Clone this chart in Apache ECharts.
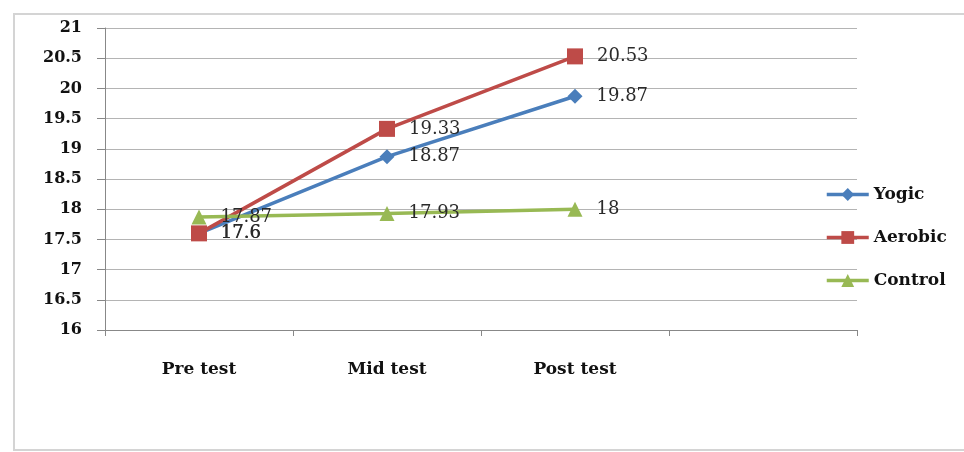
<!DOCTYPE html>
<html>
<head>
<meta charset="utf-8">
<script src="https://cdn.jsdelivr.net/npm/echarts@6/dist/echarts.min.js"></script>
<style>
  html, body { margin: 0; padding: 0; background: #ffffff; }
  #chart { width: 964px; height: 452px; }
</style>
</head>
<body>
<div id="chart"></div>
<script>
// Test phases (fourth slot is an empty category on the axis)
const categories = ['Pre test', 'Mid test', 'Post test', ''];

// Mean scores per group
const yogic   = [17.6, 18.87, 19.87];
const aerobic = [17.6, 19.33, 20.53];
const control = [17.87, 17.93, 18];

const yTicks = { min: 16, max: 21, interval: 0.5 };

const serif = '"DejaVu Serif", "Liberation Serif", serif';

function lineSeries(name, data, color, symbol, size) {
  return {
    name: name,
    type: 'line',
    data: data,
    symbol: symbol,
    symbolSize: size,
    lineStyle: { color: color, width: 3.5 },
    itemStyle: { color: color },
    label: {
      show: true,
      position: 'right',
      distance: 14,
      fontFamily: serif,
      fontSize: 18,
      color: '#2a2a2a',
      formatter: p => String(p.value)
    },
    z: 3
  };
}

const chart = echarts.init(document.getElementById('chart'));
chart.setOption({
  animation: false,
  backgroundColor: '#ffffff',
  graphic: [{
    type: 'rect',
    shape: { x: 14, y: 14, width: 962, height: 436 },
    style: { fill: 'none', stroke: '#d4d4d4', lineWidth: 2 },
    z: -1
  }],
  grid: { left: 105, right: 107, top: 28, bottom: 122 },
  legend: {
    orient: 'vertical',
    left: 820,
    top: 181,
    itemWidth: 42,
    itemHeight: 16,
    itemGap: 26,
    lineStyle: { width: 3.5 },
    textStyle: { fontFamily: serif, fontSize: 17, fontWeight: 'bold', color: '#111' },
    data: ['Yogic', 'Aerobic', 'Control']
  },
  xAxis: {
    type: 'category',
    data: categories,
    boundaryGap: true,
    axisLine: { lineStyle: { color: '#888', width: 1 } },
    axisTick: { show: true, length: 6, lineStyle: { color: '#888' } },
    axisLabel: {
      margin: 31,
      fontFamily: serif,
      fontSize: 17,
      fontWeight: 'bold',
      color: '#111'
    },
    splitLine: { show: false }
  },
  yAxis: {
    type: 'value',
    min: yTicks.min,
    max: yTicks.max,
    interval: yTicks.interval,
    axisLine: { show: true, lineStyle: { color: '#888', width: 1 } },
    axisTick: { show: true, length: 8, lineStyle: { color: '#888' } },
    axisLabel: {
      margin: 23,
      fontFamily: serif,
      fontSize: 16,
      fontWeight: 'bold',
      color: '#111'
    },
    splitLine: { show: true, lineStyle: { color: '#b4b4b4', width: 1 } }
  },
  series: [
    lineSeries('Yogic', yogic, '#4a7ebb', 'diamond', 15),
    lineSeries('Aerobic', aerobic, '#be4b48', 'rect', 16),
    lineSeries('Control', control, '#98b954', 'triangle', 15)
  ]
});
</script>
</body>
</html>
